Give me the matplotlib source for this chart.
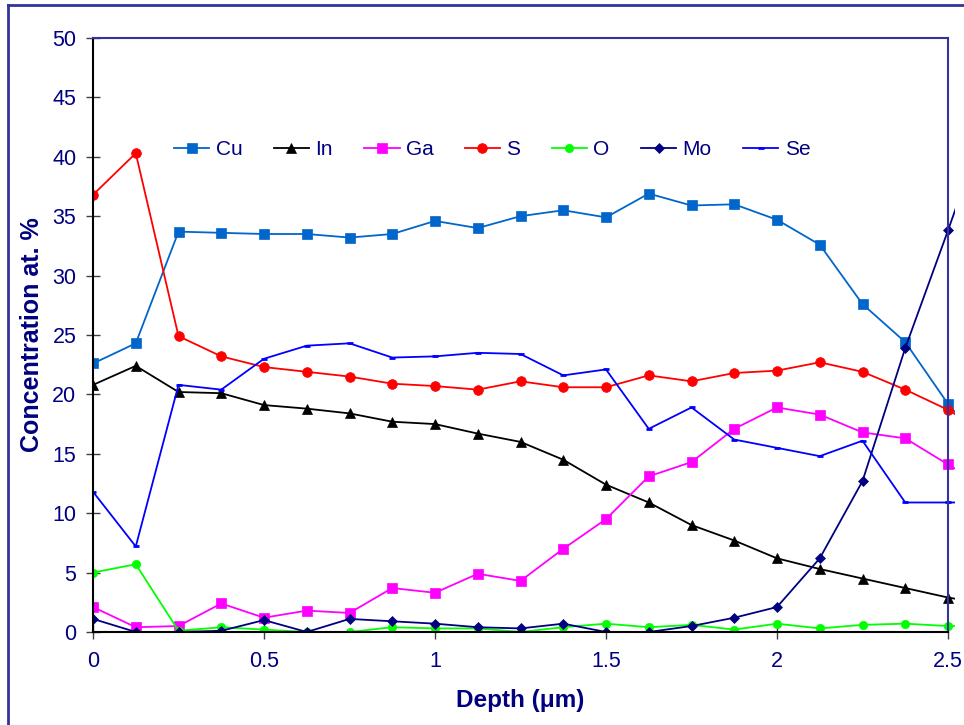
import matplotlib
matplotlib.use("Agg")
import matplotlib.pyplot as plt
from matplotlib.patches import Rectangle
from matplotlib.lines import Line2D

plt.rcParams["font.family"] = ["Liberation Sans", "DejaVu Sans"]

# ----------------------------------------------------
# DATA  (depth in um, concentration in at. %)
# last point sits just past 2.5 and is clipped at the frame
# ----------------------------------------------------
depth = [0, 0.125, 0.25, 0.375, 0.5, 0.625, 0.75, 0.875, 1.0, 1.125, 1.25,
         1.375, 1.5, 1.625, 1.75, 1.875, 2.0, 2.125, 2.25, 2.375, 2.5, 2.625]

cu = [22.6, 24.3, 33.7, 33.6, 33.5, 33.5, 33.2, 33.5, 34.6, 34.0, 35.0,
      35.5, 34.9, 36.9, 35.9, 36.0, 34.7, 32.6, 27.6, 24.4, 19.2, 15.0]
in_ = [20.8, 22.4, 20.2, 20.1, 19.1, 18.8, 18.4, 17.7, 17.5, 16.7, 16.0,
       14.5, 12.4, 10.9, 9.0, 7.7, 6.2, 5.3, 4.5, 3.7, 2.9, 2.3]
ga = [2.1, 0.4, 0.5, 2.4, 1.2, 1.8, 1.6, 3.7, 3.3, 4.9, 4.3,
      7.0, 9.5, 13.1, 14.3, 17.1, 18.9, 18.3, 16.8, 16.3, 14.1, 12.0]
s = [36.8, 40.3, 24.9, 23.2, 22.3, 21.9, 21.5, 20.9, 20.7, 20.4, 21.1,
     20.6, 20.6, 21.6, 21.1, 21.8, 22.0, 22.7, 21.9, 20.4, 18.7, 16.5]
o = [5.0, 5.7, 0.1, 0.4, 0.2, 0.0, 0.0, 0.4, 0.3, 0.3, 0.0,
     0.4, 0.7, 0.4, 0.6, 0.2, 0.7, 0.3, 0.6, 0.7, 0.5, 0.5]
mo = [1.1, 0.0, 0.0, 0.1, 1.0, 0.0, 1.1, 0.9, 0.7, 0.4, 0.3,
      0.7, 0.0, 0.0, 0.5, 1.2, 2.1, 6.2, 12.7, 23.9, 33.8, 44.0]
se = [11.8, 7.2, 20.8, 20.4, 23.0, 24.1, 24.3, 23.1, 23.2, 23.5, 23.4,
      21.6, 22.1, 17.1, 18.9, 16.2, 15.5, 14.8, 16.1, 10.9, 10.9, 10.9]

navy = "#000080"
frame = "#333399"

series = [
    ("Cu", cu, "#0066CC", "s", 6.5),
    ("In", in_, "black", "^", 7),
    ("Ga", ga, "#FF00FF", "s", 6.5),
    ("S", s, "#FF0000", "o", 7),
    ("O", o, "#00FF00", "o", 6),
    ("Mo", mo, navy, "D", 5),
    ("Se", se, "#0000FF", "_", 5),
]

fig = plt.figure(figsize=(9.64, 7.25), dpi=100)
ax = fig.add_axes([0.0965, 0.1283, 0.8869, 0.8193])

clip = Rectangle((0, 0), 1.008, 1.0, transform=ax.transAxes, facecolor="none")

for name, vals, col, mk, ms in series:
    mew = 2 if mk == "_" else 0.5
    ln, = ax.plot(depth, vals, color=col, marker=mk, markersize=ms,
                  markeredgecolor=col, markeredgewidth=mew, linewidth=1.3,
                  label=name, clip_on=True)
    ln.set_clip_path(clip)

ax.set_xlim(0, 2.5)
ax.set_ylim(0, 50)
ax.set_xticks([0, 0.5, 1, 1.5, 2, 2.5])
ax.set_xticklabels(["0", "0.5", "1", "1.5", "2", "2.5"])
ax.set_yticks(range(0, 51, 5))

ax.tick_params(direction="inout", length=10, width=1, colors="#404040",
               labelcolor=navy, labelsize=15.5)
ax.tick_params(axis="y", pad=7)
ax.tick_params(axis="x", pad=9)

ax.spines["left"].set_color("black")
ax.spines["bottom"].set_color("black")
ax.spines["top"].set_color(frame)
ax.spines["right"].set_color(frame)
for sp in ax.spines.values():
    sp.set_linewidth(1.5)

ax.set_xlabel("Depth (\u03bcm)", fontsize=17.5, fontweight="bold", color=navy,
              labelpad=12)
ax.set_ylabel("Concentration at. %", fontsize=18, fontweight="bold",
              color=navy, labelpad=6)

leg = ax.legend(loc="upper left", bbox_to_anchor=(0.085, 0.842), ncol=7,
                frameon=False, fontsize=15, handlelength=1.7,
                columnspacing=1.5, handletextpad=0.3, borderaxespad=0)
for t in leg.get_texts():
    t.set_color(navy)

# outer chart frame (top and left edges visible)
fig.add_artist(Line2D([8 / 964, 8 / 964], [0, 1 - 5 / 725], color=frame,
                      linewidth=2, transform=fig.transFigure))
fig.add_artist(Line2D([8 / 964, 1], [1 - 5 / 725, 1 - 5 / 725], color=frame,
                      linewidth=2, transform=fig.transFigure))

fig.savefig("out.png", dpi=100)
